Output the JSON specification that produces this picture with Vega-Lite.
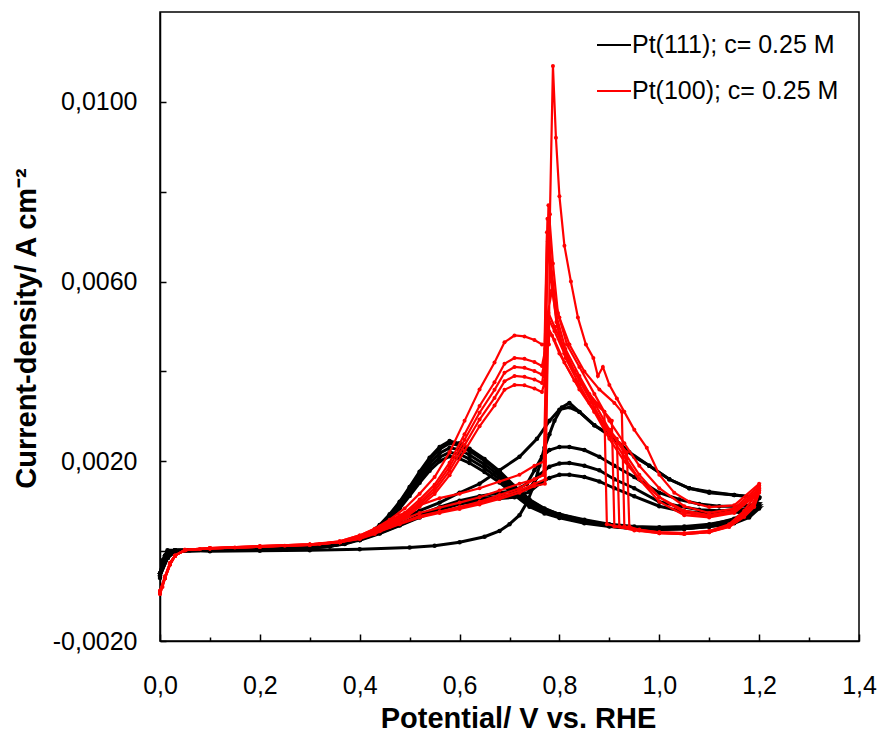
{
"$schema": "https://vega.github.io/schema/vega-lite/v6.json",
"width": 699, "height": 629,
"autosize": {"type": "none"},
"padding": {"left": 160, "top": 12, "right": 19, "bottom": 94},
"background": "white",
"config": {
  "locale": {"number": {"decimal": ",", "thousands": ".", "grouping": [3], "currency": ["", " €"], "minus": "-"}},
  "view": {"stroke": "black", "strokeWidth": 1.5},
  "font": "Liberation Sans",
  "axis": {"grid": false, "domainColor": "black", "domainWidth": 1.5, "tickColor": "black", "tickWidth": 1.5, "labelColor": "black", "titleColor": "black", "labelFont": "Liberation Sans", "titleFont": "Liberation Sans", "labelFontSize": 25, "titleFontSize": 29, "titleFontWeight": "bold"}
},
"data": {"values": [
{"e":"Pt(111)","c":1,"E":0,"j":-0.0006},{"e":"Pt(111)","c":1,"E":0.005,"j":-0.0002},{"e":"Pt(111)","c":1,"E":0.015,"j":0.00002},{"e":"Pt(111)","c":1,"E":0.05,"j":0.00002},{"e":"Pt(111)","c":1,"E":0.1,"j":0},{"e":"Pt(111)","c":1,"E":0.2,"j":0.00001},{"e":"Pt(111)","c":1,"E":0.3,"j":0.00002},{"e":"Pt(111)","c":1,"E":0.4,"j":0.00004},{"e":"Pt(111)","c":1,"E":0.5,"j":0.00008},{"e":"Pt(111)","c":1,"E":0.55,"j":0.00012},{"e":"Pt(111)","c":1,"E":0.6,"j":0.0002},{"e":"Pt(111)","c":1,"E":0.65,"j":0.00032},{"e":"Pt(111)","c":1,"E":0.68,"j":0.00045},{"e":"Pt(111)","c":1,"E":0.7,"j":0.0006},{"e":"Pt(111)","c":1,"E":0.72,"j":0.0008},{"e":"Pt(111)","c":1,"E":0.735,"j":0.00108},{"e":"Pt(111)","c":1,"E":0.75,"j":0.0015},{"e":"Pt(111)","c":1,"E":0.76,"j":0.0019},{"e":"Pt(111)","c":1,"E":0.77,"j":0.0023},{"e":"Pt(111)","c":1,"E":0.78,"j":0.0026},{"e":"Pt(111)","c":1,"E":0.79,"j":0.0029},{"e":"Pt(111)","c":1,"E":0.805,"j":0.0032},{"e":"Pt(111)","c":1,"E":0.82,"j":0.0033},{"e":"Pt(111)","c":1,"E":0.84,"j":0.0031},{"e":"Pt(111)","c":1,"E":0.87,"j":0.0028},{"e":"Pt(111)","c":1,"E":0.9,"j":0.0026},{"e":"Pt(111)","c":1,"E":0.94,"j":0.0022},{"e":"Pt(111)","c":1,"E":0.98,"j":0.0019},{"e":"Pt(111)","c":1,"E":1.02,"j":0.0016},{"e":"Pt(111)","c":1,"E":1.06,"j":0.0014},{"e":"Pt(111)","c":1,"E":1.1,"j":0.0013},{"e":"Pt(111)","c":1,"E":1.15,"j":0.00125},{"e":"Pt(111)","c":1,"E":1.2,"j":0.0012},
{"e":"Pt(111)","c":1,"E":1.18,"j":0.0009},{"e":"Pt(111)","c":1,"E":1.15,"j":0.00072},{"e":"Pt(111)","c":1,"E":1.1,"j":0.00058},{"e":"Pt(111)","c":1,"E":1.05,"j":0.00052},{"e":"Pt(111)","c":1,"E":1,"j":0.0005},{"e":"Pt(111)","c":1,"E":0.95,"j":0.00052},{"e":"Pt(111)","c":1,"E":0.9,"j":0.00058},{"e":"Pt(111)","c":1,"E":0.85,"j":0.00068},{"e":"Pt(111)","c":1,"E":0.8,"j":0.00082},{"e":"Pt(111)","c":1,"E":0.77,"j":0.00095},{"e":"Pt(111)","c":1,"E":0.74,"j":0.00115},{"e":"Pt(111)","c":1,"E":0.71,"j":0.00145},{"e":"Pt(111)","c":1,"E":0.68,"j":0.00178},{"e":"Pt(111)","c":1,"E":0.65,"j":0.00205},{"e":"Pt(111)","c":1,"E":0.62,"j":0.00228},{"e":"Pt(111)","c":1,"E":0.6,"j":0.0024},{"e":"Pt(111)","c":1,"E":0.58,"j":0.00245},{"e":"Pt(111)","c":1,"E":0.56,"j":0.00232},{"e":"Pt(111)","c":1,"E":0.54,"j":0.00208},{"e":"Pt(111)","c":1,"E":0.52,"j":0.00177},{"e":"Pt(111)","c":1,"E":0.5,"j":0.00143},{"e":"Pt(111)","c":1,"E":0.48,"j":0.0011},{"e":"Pt(111)","c":1,"E":0.46,"j":0.00082},{"e":"Pt(111)","c":1,"E":0.44,"j":0.00058},{"e":"Pt(111)","c":1,"E":0.42,"j":0.0004},{"e":"Pt(111)","c":1,"E":0.4,"j":0.00028},{"e":"Pt(111)","c":1,"E":0.37,"j":0.00018},{"e":"Pt(111)","c":1,"E":0.34,"j":0.00012},{"e":"Pt(111)","c":1,"E":0.3,"j":0.00008},{"e":"Pt(111)","c":1,"E":0.25,"j":0.00005},{"e":"Pt(111)","c":1,"E":0.2,"j":0.00004},{"e":"Pt(111)","c":1,"E":0.15,"j":0.00003},{"e":"Pt(111)","c":1,"E":0.1,"j":0.00002},{"e":"Pt(111)","c":1,"E":0.06,"j":0.00002},{"e":"Pt(111)","c":1,"E":0.03,"j":0},{"e":"Pt(111)","c":1,"E":0.015,"j":-0.00015},{"e":"Pt(111)","c":1,"E":0,"j":-0.00055},

{"e":"Pt(111)","c":2,"E":0,"j":-0.00055},{"e":"Pt(111)","c":2,"E":0.01,"j":-0.0001},{"e":"Pt(111)","c":2,"E":0.03,"j":0.00002},{"e":"Pt(111)","c":2,"E":0.1,"j":0.00003},{"e":"Pt(111)","c":2,"E":0.2,"j":0.00005},{"e":"Pt(111)","c":2,"E":0.3,"j":0.0001},{"e":"Pt(111)","c":2,"E":0.35,"j":0.00016},{"e":"Pt(111)","c":2,"E":0.4,"j":0.00028},{"e":"Pt(111)","c":2,"E":0.44,"j":0.00045},{"e":"Pt(111)","c":2,"E":0.48,"j":0.00068},{"e":"Pt(111)","c":2,"E":0.52,"j":0.0009},{"e":"Pt(111)","c":2,"E":0.56,"j":0.00108},{"e":"Pt(111)","c":2,"E":0.6,"j":0.0013},{"e":"Pt(111)","c":2,"E":0.64,"j":0.0015},{"e":"Pt(111)","c":2,"E":0.68,"j":0.0018},{"e":"Pt(111)","c":2,"E":0.72,"j":0.0021},{"e":"Pt(111)","c":2,"E":0.755,"j":0.0025},{"e":"Pt(111)","c":2,"E":0.78,"j":0.0029},{"e":"Pt(111)","c":2,"E":0.8,"j":0.00315},{"e":"Pt(111)","c":2,"E":0.82,"j":0.0032},{"e":"Pt(111)","c":2,"E":0.84,"j":0.0031},{"e":"Pt(111)","c":2,"E":0.87,"j":0.0028},{"e":"Pt(111)","c":2,"E":0.91,"j":0.0025},{"e":"Pt(111)","c":2,"E":0.95,"j":0.0021},{"e":"Pt(111)","c":2,"E":0.98,"j":0.0019},{"e":"Pt(111)","c":2,"E":1.02,"j":0.0016},{"e":"Pt(111)","c":2,"E":1.06,"j":0.0014},{"e":"Pt(111)","c":2,"E":1.1,"j":0.00132},{"e":"Pt(111)","c":2,"E":1.15,"j":0.00125},{"e":"Pt(111)","c":2,"E":1.2,"j":0.00118},
{"e":"Pt(111)","c":2,"E":1.18,"j":0.00085},{"e":"Pt(111)","c":2,"E":1.15,"j":0.0007},{"e":"Pt(111)","c":2,"E":1.1,"j":0.0006},{"e":"Pt(111)","c":2,"E":1.05,"j":0.00055},{"e":"Pt(111)","c":2,"E":1,"j":0.00053},{"e":"Pt(111)","c":2,"E":0.95,"j":0.00055},{"e":"Pt(111)","c":2,"E":0.9,"j":0.0006},{"e":"Pt(111)","c":2,"E":0.85,"j":0.0007},{"e":"Pt(111)","c":2,"E":0.8,"j":0.00082},{"e":"Pt(111)","c":2,"E":0.77,"j":0.00094},{"e":"Pt(111)","c":2,"E":0.74,"j":0.00113},{"e":"Pt(111)","c":2,"E":0.71,"j":0.00142},{"e":"Pt(111)","c":2,"E":0.68,"j":0.00174},{"e":"Pt(111)","c":2,"E":0.65,"j":0.00201},{"e":"Pt(111)","c":2,"E":0.62,"j":0.00223},{"e":"Pt(111)","c":2,"E":0.6,"j":0.00235},{"e":"Pt(111)","c":2,"E":0.58,"j":0.0024},{"e":"Pt(111)","c":2,"E":0.56,"j":0.00227},{"e":"Pt(111)","c":2,"E":0.54,"j":0.00204},{"e":"Pt(111)","c":2,"E":0.52,"j":0.00173},{"e":"Pt(111)","c":2,"E":0.5,"j":0.0014},{"e":"Pt(111)","c":2,"E":0.48,"j":0.00108},{"e":"Pt(111)","c":2,"E":0.46,"j":0.0008},{"e":"Pt(111)","c":2,"E":0.44,"j":0.00057},{"e":"Pt(111)","c":2,"E":0.42,"j":0.0004},{"e":"Pt(111)","c":2,"E":0.4,"j":0.00028},{"e":"Pt(111)","c":2,"E":0.37,"j":0.00018},{"e":"Pt(111)","c":2,"E":0.34,"j":0.00012},{"e":"Pt(111)","c":2,"E":0.3,"j":0.00008},{"e":"Pt(111)","c":2,"E":0.2,"j":0.00004},{"e":"Pt(111)","c":2,"E":0.1,"j":0.00002},{"e":"Pt(111)","c":2,"E":0.03,"j":0},{"e":"Pt(111)","c":2,"E":0.015,"j":-0.00015},{"e":"Pt(111)","c":2,"E":0,"j":-0.00055},

{"e":"Pt(111)","c":3,"E":0,"j":-0.0005},{"e":"Pt(111)","c":3,"E":0.01,"j":-0.0001},{"e":"Pt(111)","c":3,"E":0.03,"j":0.00002},{"e":"Pt(111)","c":3,"E":0.1,"j":0.00003},{"e":"Pt(111)","c":3,"E":0.2,"j":0.00005},{"e":"Pt(111)","c":3,"E":0.3,"j":0.0001},{"e":"Pt(111)","c":3,"E":0.35,"j":0.00016},{"e":"Pt(111)","c":3,"E":0.4,"j":0.00026},{"e":"Pt(111)","c":3,"E":0.44,"j":0.00042},{"e":"Pt(111)","c":3,"E":0.48,"j":0.0006},{"e":"Pt(111)","c":3,"E":0.52,"j":0.0008},{"e":"Pt(111)","c":3,"E":0.56,"j":0.00098},{"e":"Pt(111)","c":3,"E":0.6,"j":0.00112},{"e":"Pt(111)","c":3,"E":0.64,"j":0.00122},{"e":"Pt(111)","c":3,"E":0.68,"j":0.0013},{"e":"Pt(111)","c":3,"E":0.71,"j":0.00135},{"e":"Pt(111)","c":3,"E":0.735,"j":0.0015},{"e":"Pt(111)","c":3,"E":0.75,"j":0.0018},{"e":"Pt(111)","c":3,"E":0.765,"j":0.0021},{"e":"Pt(111)","c":3,"E":0.78,"j":0.00225},{"e":"Pt(111)","c":3,"E":0.8,"j":0.00232},{"e":"Pt(111)","c":3,"E":0.82,"j":0.00232},{"e":"Pt(111)","c":3,"E":0.85,"j":0.00225},{"e":"Pt(111)","c":3,"E":0.88,"j":0.0021},{"e":"Pt(111)","c":3,"E":0.91,"j":0.0019},{"e":"Pt(111)","c":3,"E":0.95,"j":0.00165},{"e":"Pt(111)","c":3,"E":1,"j":0.0013},{"e":"Pt(111)","c":3,"E":1.04,"j":0.00115},{"e":"Pt(111)","c":3,"E":1.08,"j":0.00105},{"e":"Pt(111)","c":3,"E":1.12,"j":0.001},{"e":"Pt(111)","c":3,"E":1.16,"j":0.001},{"e":"Pt(111)","c":3,"E":1.2,"j":0.00105},
{"e":"Pt(111)","c":3,"E":1.18,"j":0.0008},{"e":"Pt(111)","c":3,"E":1.15,"j":0.00066},{"e":"Pt(111)","c":3,"E":1.1,"j":0.00056},{"e":"Pt(111)","c":3,"E":1.05,"j":0.0005},{"e":"Pt(111)","c":3,"E":1,"j":0.00048},{"e":"Pt(111)","c":3,"E":0.95,"j":0.0005},{"e":"Pt(111)","c":3,"E":0.9,"j":0.00056},{"e":"Pt(111)","c":3,"E":0.85,"j":0.00066},{"e":"Pt(111)","c":3,"E":0.8,"j":0.00079},{"e":"Pt(111)","c":3,"E":0.77,"j":0.0009},{"e":"Pt(111)","c":3,"E":0.74,"j":0.00108},{"e":"Pt(111)","c":3,"E":0.71,"j":0.00136},{"e":"Pt(111)","c":3,"E":0.68,"j":0.00167},{"e":"Pt(111)","c":3,"E":0.65,"j":0.00193},{"e":"Pt(111)","c":3,"E":0.62,"j":0.00214},{"e":"Pt(111)","c":3,"E":0.6,"j":0.00226},{"e":"Pt(111)","c":3,"E":0.58,"j":0.0023},{"e":"Pt(111)","c":3,"E":0.56,"j":0.00218},{"e":"Pt(111)","c":3,"E":0.54,"j":0.00196},{"e":"Pt(111)","c":3,"E":0.52,"j":0.00166},{"e":"Pt(111)","c":3,"E":0.5,"j":0.00134},{"e":"Pt(111)","c":3,"E":0.48,"j":0.00103},{"e":"Pt(111)","c":3,"E":0.46,"j":0.00077},{"e":"Pt(111)","c":3,"E":0.44,"j":0.00055},{"e":"Pt(111)","c":3,"E":0.42,"j":0.00038},{"e":"Pt(111)","c":3,"E":0.4,"j":0.00027},{"e":"Pt(111)","c":3,"E":0.37,"j":0.00017},{"e":"Pt(111)","c":3,"E":0.34,"j":0.00011},{"e":"Pt(111)","c":3,"E":0.3,"j":0.00007},{"e":"Pt(111)","c":3,"E":0.2,"j":0.00004},{"e":"Pt(111)","c":3,"E":0.1,"j":0.00002},{"e":"Pt(111)","c":3,"E":0.03,"j":0},{"e":"Pt(111)","c":3,"E":0.015,"j":-0.00015},{"e":"Pt(111)","c":3,"E":0,"j":-0.0005},

{"e":"Pt(111)","c":4,"E":0,"j":-0.0005},{"e":"Pt(111)","c":4,"E":0.01,"j":-0.0001},{"e":"Pt(111)","c":4,"E":0.03,"j":0.00002},{"e":"Pt(111)","c":4,"E":0.1,"j":0.00003},{"e":"Pt(111)","c":4,"E":0.2,"j":0.00005},{"e":"Pt(111)","c":4,"E":0.3,"j":0.0001},{"e":"Pt(111)","c":4,"E":0.35,"j":0.00015},{"e":"Pt(111)","c":4,"E":0.4,"j":0.00025},{"e":"Pt(111)","c":4,"E":0.44,"j":0.0004},{"e":"Pt(111)","c":4,"E":0.48,"j":0.00058},{"e":"Pt(111)","c":4,"E":0.52,"j":0.00077},{"e":"Pt(111)","c":4,"E":0.56,"j":0.00094},{"e":"Pt(111)","c":4,"E":0.6,"j":0.00108},{"e":"Pt(111)","c":4,"E":0.64,"j":0.00116},{"e":"Pt(111)","c":4,"E":0.68,"j":0.00122},{"e":"Pt(111)","c":4,"E":0.71,"j":0.00126},{"e":"Pt(111)","c":4,"E":0.74,"j":0.0014},{"e":"Pt(111)","c":4,"E":0.76,"j":0.0017},{"e":"Pt(111)","c":4,"E":0.78,"j":0.00188},{"e":"Pt(111)","c":4,"E":0.8,"j":0.00195},{"e":"Pt(111)","c":4,"E":0.82,"j":0.00196},{"e":"Pt(111)","c":4,"E":0.85,"j":0.0019},{"e":"Pt(111)","c":4,"E":0.88,"j":0.0018},{"e":"Pt(111)","c":4,"E":0.91,"j":0.0016},{"e":"Pt(111)","c":4,"E":0.95,"j":0.0014},{"e":"Pt(111)","c":4,"E":1,"j":0.0011},{"e":"Pt(111)","c":4,"E":1.04,"j":0.001},{"e":"Pt(111)","c":4,"E":1.08,"j":0.00092},{"e":"Pt(111)","c":4,"E":1.12,"j":0.0009},{"e":"Pt(111)","c":4,"E":1.16,"j":0.00092},{"e":"Pt(111)","c":4,"E":1.2,"j":0.001},
{"e":"Pt(111)","c":4,"E":1.18,"j":0.00078},{"e":"Pt(111)","c":4,"E":1.15,"j":0.00064},{"e":"Pt(111)","c":4,"E":1.1,"j":0.00055},{"e":"Pt(111)","c":4,"E":1.05,"j":0.0005},{"e":"Pt(111)","c":4,"E":1,"j":0.00049},{"e":"Pt(111)","c":4,"E":0.95,"j":0.00051},{"e":"Pt(111)","c":4,"E":0.9,"j":0.00056},{"e":"Pt(111)","c":4,"E":0.85,"j":0.00064},{"e":"Pt(111)","c":4,"E":0.8,"j":0.00076},{"e":"Pt(111)","c":4,"E":0.77,"j":0.00087},{"e":"Pt(111)","c":4,"E":0.74,"j":0.00104},{"e":"Pt(111)","c":4,"E":0.71,"j":0.00131},{"e":"Pt(111)","c":4,"E":0.68,"j":0.0016},{"e":"Pt(111)","c":4,"E":0.65,"j":0.00185},{"e":"Pt(111)","c":4,"E":0.62,"j":0.00205},{"e":"Pt(111)","c":4,"E":0.6,"j":0.00216},{"e":"Pt(111)","c":4,"E":0.58,"j":0.0022},{"e":"Pt(111)","c":4,"E":0.56,"j":0.00209},{"e":"Pt(111)","c":4,"E":0.54,"j":0.00187},{"e":"Pt(111)","c":4,"E":0.52,"j":0.00159},{"e":"Pt(111)","c":4,"E":0.5,"j":0.00129},{"e":"Pt(111)","c":4,"E":0.48,"j":0.00099},{"e":"Pt(111)","c":4,"E":0.46,"j":0.00074},{"e":"Pt(111)","c":4,"E":0.44,"j":0.00052},{"e":"Pt(111)","c":4,"E":0.42,"j":0.00037},{"e":"Pt(111)","c":4,"E":0.4,"j":0.00026},{"e":"Pt(111)","c":4,"E":0.37,"j":0.00017},{"e":"Pt(111)","c":4,"E":0.34,"j":0.00011},{"e":"Pt(111)","c":4,"E":0.3,"j":0.00007},{"e":"Pt(111)","c":4,"E":0.2,"j":0.00004},{"e":"Pt(111)","c":4,"E":0.1,"j":0.00002},{"e":"Pt(111)","c":4,"E":0.03,"j":0},{"e":"Pt(111)","c":4,"E":0.015,"j":-0.00015},{"e":"Pt(111)","c":4,"E":0,"j":-0.0005},

{"e":"Pt(111)","c":5,"E":0,"j":-0.0005},{"e":"Pt(111)","c":5,"E":0.01,"j":-0.0001},{"e":"Pt(111)","c":5,"E":0.03,"j":0.00002},{"e":"Pt(111)","c":5,"E":0.1,"j":0.00003},{"e":"Pt(111)","c":5,"E":0.2,"j":0.00005},{"e":"Pt(111)","c":5,"E":0.3,"j":0.0001},{"e":"Pt(111)","c":5,"E":0.35,"j":0.00015},{"e":"Pt(111)","c":5,"E":0.4,"j":0.00024},{"e":"Pt(111)","c":5,"E":0.44,"j":0.00039},{"e":"Pt(111)","c":5,"E":0.48,"j":0.00057},{"e":"Pt(111)","c":5,"E":0.52,"j":0.00075},{"e":"Pt(111)","c":5,"E":0.56,"j":0.00092},{"e":"Pt(111)","c":5,"E":0.6,"j":0.00105},{"e":"Pt(111)","c":5,"E":0.64,"j":0.00112},{"e":"Pt(111)","c":5,"E":0.68,"j":0.00117},{"e":"Pt(111)","c":5,"E":0.71,"j":0.0012},{"e":"Pt(111)","c":5,"E":0.74,"j":0.00132},{"e":"Pt(111)","c":5,"E":0.76,"j":0.0015},{"e":"Pt(111)","c":5,"E":0.78,"j":0.00163},{"e":"Pt(111)","c":5,"E":0.8,"j":0.0017},{"e":"Pt(111)","c":5,"E":0.82,"j":0.0017},{"e":"Pt(111)","c":5,"E":0.85,"j":0.00165},{"e":"Pt(111)","c":5,"E":0.88,"j":0.00155},{"e":"Pt(111)","c":5,"E":0.91,"j":0.0014},{"e":"Pt(111)","c":5,"E":0.95,"j":0.00122},{"e":"Pt(111)","c":5,"E":1,"j":0.001},{"e":"Pt(111)","c":5,"E":1.04,"j":0.0009},{"e":"Pt(111)","c":5,"E":1.08,"j":0.00085},{"e":"Pt(111)","c":5,"E":1.12,"j":0.00083},{"e":"Pt(111)","c":5,"E":1.16,"j":0.00087},{"e":"Pt(111)","c":5,"E":1.2,"j":0.00095},
{"e":"Pt(111)","c":5,"E":1.18,"j":0.00075},{"e":"Pt(111)","c":5,"E":1.15,"j":0.00062},{"e":"Pt(111)","c":5,"E":1.1,"j":0.00054},{"e":"Pt(111)","c":5,"E":1.05,"j":0.0005},{"e":"Pt(111)","c":5,"E":1,"j":0.00049},{"e":"Pt(111)","c":5,"E":0.95,"j":0.0005},{"e":"Pt(111)","c":5,"E":0.9,"j":0.00055},{"e":"Pt(111)","c":5,"E":0.85,"j":0.00062},{"e":"Pt(111)","c":5,"E":0.8,"j":0.00074},{"e":"Pt(111)","c":5,"E":0.77,"j":0.00084},{"e":"Pt(111)","c":5,"E":0.74,"j":0.00099},{"e":"Pt(111)","c":5,"E":0.71,"j":0.00125},{"e":"Pt(111)","c":5,"E":0.68,"j":0.00153},{"e":"Pt(111)","c":5,"E":0.65,"j":0.00176},{"e":"Pt(111)","c":5,"E":0.62,"j":0.00196},{"e":"Pt(111)","c":5,"E":0.6,"j":0.00206},{"e":"Pt(111)","c":5,"E":0.58,"j":0.00211},{"e":"Pt(111)","c":5,"E":0.56,"j":0.002},{"e":"Pt(111)","c":5,"E":0.54,"j":0.00179},{"e":"Pt(111)","c":5,"E":0.52,"j":0.00152},{"e":"Pt(111)","c":5,"E":0.5,"j":0.00123},{"e":"Pt(111)","c":5,"E":0.48,"j":0.00095},{"e":"Pt(111)","c":5,"E":0.46,"j":0.00071},{"e":"Pt(111)","c":5,"E":0.44,"j":0.0005},{"e":"Pt(111)","c":5,"E":0.42,"j":0.00036},{"e":"Pt(111)","c":5,"E":0.4,"j":0.00025},{"e":"Pt(111)","c":5,"E":0.37,"j":0.00016},{"e":"Pt(111)","c":5,"E":0.34,"j":0.00011},{"e":"Pt(111)","c":5,"E":0.3,"j":0.00007},{"e":"Pt(111)","c":5,"E":0.2,"j":0.00004},{"e":"Pt(111)","c":5,"E":0.1,"j":0.00002},{"e":"Pt(111)","c":5,"E":0.03,"j":0},{"e":"Pt(111)","c":5,"E":0.015,"j":-0.00015},{"e":"Pt(111)","c":5,"E":0,"j":-0.0005},

{"e":"Pt(100)","c":1,"E":0,"j":-0.00095},{"e":"Pt(100)","c":1,"E":0.005,"j":-0.0008},{"e":"Pt(100)","c":1,"E":0.01,"j":-0.0006},{"e":"Pt(100)","c":1,"E":0.02,"j":-0.00028},{"e":"Pt(100)","c":1,"E":0.03,"j":-0.0001},{"e":"Pt(100)","c":1,"E":0.05,"j":0.00002},{"e":"Pt(100)","c":1,"E":0.08,"j":0.00005},{"e":"Pt(100)","c":1,"E":0.15,"j":0.00008},{"e":"Pt(100)","c":1,"E":0.25,"j":0.00012},{"e":"Pt(100)","c":1,"E":0.32,"j":0.00016},{"e":"Pt(100)","c":1,"E":0.36,"j":0.00022},{"e":"Pt(100)","c":1,"E":0.4,"j":0.00035},{"e":"Pt(100)","c":1,"E":0.43,"j":0.0005},{"e":"Pt(100)","c":1,"E":0.46,"j":0.0007},{"e":"Pt(100)","c":1,"E":0.49,"j":0.00095},{"e":"Pt(100)","c":1,"E":0.52,"j":0.00128},{"e":"Pt(100)","c":1,"E":0.55,"j":0.00165},{"e":"Pt(100)","c":1,"E":0.58,"j":0.0022},{"e":"Pt(100)","c":1,"E":0.61,"j":0.0029},{"e":"Pt(100)","c":1,"E":0.64,"j":0.0036},{"e":"Pt(100)","c":1,"E":0.67,"j":0.0042},{"e":"Pt(100)","c":1,"E":0.69,"j":0.00465},{"e":"Pt(100)","c":1,"E":0.71,"j":0.0048},{"e":"Pt(100)","c":1,"E":0.73,"j":0.00478},{"e":"Pt(100)","c":1,"E":0.75,"j":0.0047},{"e":"Pt(100)","c":1,"E":0.765,"j":0.0046},{"e":"Pt(100)","c":1,"E":0.779,"j":0.0046},{"e":"Pt(100)","c":1,"E":0.781,"j":0.0075},{"e":"Pt(100)","c":1,"E":0.787,"j":0.0108},{"e":"Pt(100)","c":1,"E":0.793,"j":0.0092},{"e":"Pt(100)","c":1,"E":0.8,"j":0.0079},{"e":"Pt(100)","c":1,"E":0.81,"j":0.0068},{"e":"Pt(100)","c":1,"E":0.823,"j":0.006},{"e":"Pt(100)","c":1,"E":0.837,"j":0.0052},{"e":"Pt(100)","c":1,"E":0.853,"j":0.0046},{"e":"Pt(100)","c":1,"E":0.868,"j":0.0043},{"e":"Pt(100)","c":1,"E":0.877,"j":0.0039},{"e":"Pt(100)","c":1,"E":0.887,"j":0.0041},{"e":"Pt(100)","c":1,"E":0.9,"j":0.0037},{"e":"Pt(100)","c":1,"E":0.915,"j":0.0034},{"e":"Pt(100)","c":1,"E":0.93,"j":0.0031},{"e":"Pt(100)","c":1,"E":0.95,"j":0.0027},{"e":"Pt(100)","c":1,"E":0.975,"j":0.0023},{"e":"Pt(100)","c":1,"E":1,"j":0.0017},{"e":"Pt(100)","c":1,"E":1.03,"j":0.0013},{"e":"Pt(100)","c":1,"E":1.06,"j":0.0011},{"e":"Pt(100)","c":1,"E":1.1,"j":0.00098},{"e":"Pt(100)","c":1,"E":1.15,"j":0.00102},{"e":"Pt(100)","c":1,"E":1.2,"j":0.0015},
{"e":"Pt(100)","c":1,"E":1.19,"j":0.0012},{"e":"Pt(100)","c":1,"E":1.17,"j":0.0009},{"e":"Pt(100)","c":1,"E":1.14,"j":0.0006},{"e":"Pt(100)","c":1,"E":1.1,"j":0.00045},{"e":"Pt(100)","c":1,"E":1.05,"j":0.0004},{"e":"Pt(100)","c":1,"E":1,"j":0.00042},{"e":"Pt(100)","c":1,"E":0.96,"j":0.00048},{"e":"Pt(100)","c":1,"E":0.93,"j":0.00055},{"e":"Pt(100)","c":1,"E":0.925,"j":0.0031},{"e":"Pt(100)","c":1,"E":0.91,"j":0.0033},{"e":"Pt(100)","c":1,"E":0.88,"j":0.0036},{"e":"Pt(100)","c":1,"E":0.85,"j":0.004},{"e":"Pt(100)","c":1,"E":0.82,"j":0.0046},{"e":"Pt(100)","c":1,"E":0.8,"j":0.0052},{"e":"Pt(100)","c":1,"E":0.785,"j":0.0058},{"e":"Pt(100)","c":1,"E":0.775,"j":0.0052},{"e":"Pt(100)","c":1,"E":0.77,"j":0.0017},{"e":"Pt(100)","c":1,"E":0.75,"j":0.0016},{"e":"Pt(100)","c":1,"E":0.72,"j":0.0014},{"e":"Pt(100)","c":1,"E":0.68,"j":0.00125},{"e":"Pt(100)","c":1,"E":0.64,"j":0.0011},{"e":"Pt(100)","c":1,"E":0.6,"j":0.00098},{"e":"Pt(100)","c":1,"E":0.56,"j":0.00088},{"e":"Pt(100)","c":1,"E":0.52,"j":0.00078},{"e":"Pt(100)","c":1,"E":0.48,"j":0.00062},{"e":"Pt(100)","c":1,"E":0.44,"j":0.00045},{"e":"Pt(100)","c":1,"E":0.4,"j":0.0003},{"e":"Pt(100)","c":1,"E":0.36,"j":0.0002},{"e":"Pt(100)","c":1,"E":0.3,"j":0.00014},{"e":"Pt(100)","c":1,"E":0.2,"j":0.0001},{"e":"Pt(100)","c":1,"E":0.1,"j":0.00006},{"e":"Pt(100)","c":1,"E":0.05,"j":0.00002},{"e":"Pt(100)","c":1,"E":0.03,"j":-0.0001},{"e":"Pt(100)","c":1,"E":0.02,"j":-0.0003},{"e":"Pt(100)","c":1,"E":0.01,"j":-0.0006},{"e":"Pt(100)","c":1,"E":0,"j":-0.00095},

{"e":"Pt(100)","c":2,"E":0,"j":-0.00095},{"e":"Pt(100)","c":2,"E":0.01,"j":-0.0006},{"e":"Pt(100)","c":2,"E":0.02,"j":-0.00028},{"e":"Pt(100)","c":2,"E":0.03,"j":-0.0001},{"e":"Pt(100)","c":2,"E":0.05,"j":0.00002},{"e":"Pt(100)","c":2,"E":0.1,"j":0.00006},{"e":"Pt(100)","c":2,"E":0.2,"j":0.0001},{"e":"Pt(100)","c":2,"E":0.3,"j":0.00014},{"e":"Pt(100)","c":2,"E":0.36,"j":0.0002},{"e":"Pt(100)","c":2,"E":0.4,"j":0.00031},{"e":"Pt(100)","c":2,"E":0.43,"j":0.00045},{"e":"Pt(100)","c":2,"E":0.46,"j":0.00063},{"e":"Pt(100)","c":2,"E":0.49,"j":0.00085},{"e":"Pt(100)","c":2,"E":0.52,"j":0.00115},{"e":"Pt(100)","c":2,"E":0.55,"j":0.00148},{"e":"Pt(100)","c":2,"E":0.58,"j":0.00197},{"e":"Pt(100)","c":2,"E":0.61,"j":0.0026},{"e":"Pt(100)","c":2,"E":0.64,"j":0.00323},{"e":"Pt(100)","c":2,"E":0.67,"j":0.00376},{"e":"Pt(100)","c":2,"E":0.69,"j":0.00417},{"e":"Pt(100)","c":2,"E":0.71,"j":0.0043},{"e":"Pt(100)","c":2,"E":0.73,"j":0.00428},{"e":"Pt(100)","c":2,"E":0.75,"j":0.00421},{"e":"Pt(100)","c":2,"E":0.765,"j":0.00412},{"e":"Pt(100)","c":2,"E":0.772,"j":0.0045},{"e":"Pt(100)","c":2,"E":0.778,"j":0.0077},{"e":"Pt(100)","c":2,"E":0.787,"j":0.0064},{"e":"Pt(100)","c":2,"E":0.797,"j":0.0053},{"e":"Pt(100)","c":2,"E":0.815,"j":0.0046},{"e":"Pt(100)","c":2,"E":0.84,"j":0.0041},{"e":"Pt(100)","c":2,"E":0.87,"j":0.0035},{"e":"Pt(100)","c":2,"E":0.9,"j":0.0029},{"e":"Pt(100)","c":2,"E":0.93,"j":0.0024},{"e":"Pt(100)","c":2,"E":0.96,"j":0.0019},{"e":"Pt(100)","c":2,"E":1,"j":0.0014},{"e":"Pt(100)","c":2,"E":1.05,"j":0.001},{"e":"Pt(100)","c":2,"E":1.1,"j":0.00085},{"e":"Pt(100)","c":2,"E":1.15,"j":0.00095},{"e":"Pt(100)","c":2,"E":1.2,"j":0.00145},
{"e":"Pt(100)","c":2,"E":1.19,"j":0.0011},{"e":"Pt(100)","c":2,"E":1.17,"j":0.00085},{"e":"Pt(100)","c":2,"E":1.14,"j":0.00058},{"e":"Pt(100)","c":2,"E":1.1,"j":0.00044},{"e":"Pt(100)","c":2,"E":1.05,"j":0.0004},{"e":"Pt(100)","c":2,"E":1,"j":0.00042},{"e":"Pt(100)","c":2,"E":0.96,"j":0.00047},{"e":"Pt(100)","c":2,"E":0.91,"j":0.00055},{"e":"Pt(100)","c":2,"E":0.905,"j":0.0029},{"e":"Pt(100)","c":2,"E":0.89,"j":0.0031},{"e":"Pt(100)","c":2,"E":0.86,"j":0.0035},{"e":"Pt(100)","c":2,"E":0.83,"j":0.004},{"e":"Pt(100)","c":2,"E":0.81,"j":0.0045},{"e":"Pt(100)","c":2,"E":0.79,"j":0.005},{"e":"Pt(100)","c":2,"E":0.778,"j":0.0053},{"e":"Pt(100)","c":2,"E":0.772,"j":0.0016},{"e":"Pt(100)","c":2,"E":0.75,"j":0.0015},{"e":"Pt(100)","c":2,"E":0.72,"j":0.00135},{"e":"Pt(100)","c":2,"E":0.68,"j":0.0012},{"e":"Pt(100)","c":2,"E":0.64,"j":0.00108},{"e":"Pt(100)","c":2,"E":0.6,"j":0.00097},{"e":"Pt(100)","c":2,"E":0.56,"j":0.00087},{"e":"Pt(100)","c":2,"E":0.52,"j":0.00077},{"e":"Pt(100)","c":2,"E":0.48,"j":0.00061},{"e":"Pt(100)","c":2,"E":0.44,"j":0.00045},{"e":"Pt(100)","c":2,"E":0.4,"j":0.0003},{"e":"Pt(100)","c":2,"E":0.36,"j":0.0002},{"e":"Pt(100)","c":2,"E":0.3,"j":0.00014},{"e":"Pt(100)","c":2,"E":0.2,"j":0.0001},{"e":"Pt(100)","c":2,"E":0.1,"j":0.00006},{"e":"Pt(100)","c":2,"E":0.05,"j":0.00002},{"e":"Pt(100)","c":2,"E":0.03,"j":-0.0001},{"e":"Pt(100)","c":2,"E":0.02,"j":-0.0003},{"e":"Pt(100)","c":2,"E":0.01,"j":-0.0006},{"e":"Pt(100)","c":2,"E":0,"j":-0.00095},

{"e":"Pt(100)","c":3,"E":0,"j":-0.0009},{"e":"Pt(100)","c":3,"E":0.01,"j":-0.00058},{"e":"Pt(100)","c":3,"E":0.02,"j":-0.00027},{"e":"Pt(100)","c":3,"E":0.03,"j":-0.0001},{"e":"Pt(100)","c":3,"E":0.05,"j":0.00003},{"e":"Pt(100)","c":3,"E":0.1,"j":0.00007},{"e":"Pt(100)","c":3,"E":0.2,"j":0.00011},{"e":"Pt(100)","c":3,"E":0.3,"j":0.00015},{"e":"Pt(100)","c":3,"E":0.36,"j":0.0002},{"e":"Pt(100)","c":3,"E":0.4,"j":0.0003},{"e":"Pt(100)","c":3,"E":0.43,"j":0.00043},{"e":"Pt(100)","c":3,"E":0.46,"j":0.0006},{"e":"Pt(100)","c":3,"E":0.49,"j":0.00081},{"e":"Pt(100)","c":3,"E":0.52,"j":0.00109},{"e":"Pt(100)","c":3,"E":0.55,"j":0.00141},{"e":"Pt(100)","c":3,"E":0.58,"j":0.00188},{"e":"Pt(100)","c":3,"E":0.61,"j":0.00248},{"e":"Pt(100)","c":3,"E":0.64,"j":0.00308},{"e":"Pt(100)","c":3,"E":0.67,"j":0.00359},{"e":"Pt(100)","c":3,"E":0.69,"j":0.00397},{"e":"Pt(100)","c":3,"E":0.71,"j":0.0041},{"e":"Pt(100)","c":3,"E":0.73,"j":0.00408},{"e":"Pt(100)","c":3,"E":0.75,"j":0.00401},{"e":"Pt(100)","c":3,"E":0.765,"j":0.00393},{"e":"Pt(100)","c":3,"E":0.77,"j":0.0042},{"e":"Pt(100)","c":3,"E":0.776,"j":0.0074},{"e":"Pt(100)","c":3,"E":0.785,"j":0.0062},{"e":"Pt(100)","c":3,"E":0.795,"j":0.0052},{"e":"Pt(100)","c":3,"E":0.812,"j":0.0045},{"e":"Pt(100)","c":3,"E":0.84,"j":0.0039},{"e":"Pt(100)","c":3,"E":0.87,"j":0.0033},{"e":"Pt(100)","c":3,"E":0.9,"j":0.0027},{"e":"Pt(100)","c":3,"E":0.93,"j":0.0022},{"e":"Pt(100)","c":3,"E":0.96,"j":0.0017},{"e":"Pt(100)","c":3,"E":1,"j":0.0012},{"e":"Pt(100)","c":3,"E":1.05,"j":0.0009},{"e":"Pt(100)","c":3,"E":1.1,"j":0.0008},{"e":"Pt(100)","c":3,"E":1.15,"j":0.0009},{"e":"Pt(100)","c":3,"E":1.2,"j":0.0014},
{"e":"Pt(100)","c":3,"E":1.19,"j":0.00105},{"e":"Pt(100)","c":3,"E":1.17,"j":0.0008},{"e":"Pt(100)","c":3,"E":1.14,"j":0.00056},{"e":"Pt(100)","c":3,"E":1.1,"j":0.00043},{"e":"Pt(100)","c":3,"E":1.05,"j":0.00039},{"e":"Pt(100)","c":3,"E":1,"j":0.00041},{"e":"Pt(100)","c":3,"E":0.96,"j":0.00047},{"e":"Pt(100)","c":3,"E":0.92,"j":0.00055},{"e":"Pt(100)","c":3,"E":0.915,"j":0.0025},{"e":"Pt(100)","c":3,"E":0.9,"j":0.0027},{"e":"Pt(100)","c":3,"E":0.87,"j":0.0031},{"e":"Pt(100)","c":3,"E":0.84,"j":0.0036},{"e":"Pt(100)","c":3,"E":0.81,"j":0.0042},{"e":"Pt(100)","c":3,"E":0.79,"j":0.0047},{"e":"Pt(100)","c":3,"E":0.776,"j":0.005},{"e":"Pt(100)","c":3,"E":0.77,"j":0.002},{"e":"Pt(100)","c":3,"E":0.75,"j":0.0019},{"e":"Pt(100)","c":3,"E":0.72,"j":0.0017},{"e":"Pt(100)","c":3,"E":0.68,"j":0.00155},{"e":"Pt(100)","c":3,"E":0.64,"j":0.0014},{"e":"Pt(100)","c":3,"E":0.6,"j":0.00128},{"e":"Pt(100)","c":3,"E":0.56,"j":0.00118},{"e":"Pt(100)","c":3,"E":0.52,"j":0.00102},{"e":"Pt(100)","c":3,"E":0.48,"j":0.0008},{"e":"Pt(100)","c":3,"E":0.44,"j":0.00055},{"e":"Pt(100)","c":3,"E":0.4,"j":0.00035},{"e":"Pt(100)","c":3,"E":0.36,"j":0.00022},{"e":"Pt(100)","c":3,"E":0.3,"j":0.00015},{"e":"Pt(100)","c":3,"E":0.2,"j":0.0001},{"e":"Pt(100)","c":3,"E":0.1,"j":0.00006},{"e":"Pt(100)","c":3,"E":0.05,"j":0.00002},{"e":"Pt(100)","c":3,"E":0.03,"j":-0.0001},{"e":"Pt(100)","c":3,"E":0.02,"j":-0.0003},{"e":"Pt(100)","c":3,"E":0.01,"j":-0.0006},{"e":"Pt(100)","c":3,"E":0,"j":-0.0009},

{"e":"Pt(100)","c":4,"E":0,"j":-0.0009},{"e":"Pt(100)","c":4,"E":0.01,"j":-0.00058},{"e":"Pt(100)","c":4,"E":0.02,"j":-0.00027},{"e":"Pt(100)","c":4,"E":0.03,"j":-0.0001},{"e":"Pt(100)","c":4,"E":0.05,"j":0.00003},{"e":"Pt(100)","c":4,"E":0.1,"j":0.00007},{"e":"Pt(100)","c":4,"E":0.2,"j":0.00011},{"e":"Pt(100)","c":4,"E":0.3,"j":0.00015},{"e":"Pt(100)","c":4,"E":0.36,"j":0.0002},{"e":"Pt(100)","c":4,"E":0.4,"j":0.00028},{"e":"Pt(100)","c":4,"E":0.43,"j":0.00041},{"e":"Pt(100)","c":4,"E":0.46,"j":0.00057},{"e":"Pt(100)","c":4,"E":0.49,"j":0.00077},{"e":"Pt(100)","c":4,"E":0.52,"j":0.00104},{"e":"Pt(100)","c":4,"E":0.55,"j":0.00134},{"e":"Pt(100)","c":4,"E":0.58,"j":0.00179},{"e":"Pt(100)","c":4,"E":0.61,"j":0.00236},{"e":"Pt(100)","c":4,"E":0.64,"j":0.00293},{"e":"Pt(100)","c":4,"E":0.67,"j":0.00341},{"e":"Pt(100)","c":4,"E":0.69,"j":0.00378},{"e":"Pt(100)","c":4,"E":0.71,"j":0.0039},{"e":"Pt(100)","c":4,"E":0.73,"j":0.00388},{"e":"Pt(100)","c":4,"E":0.75,"j":0.00382},{"e":"Pt(100)","c":4,"E":0.765,"j":0.00374},{"e":"Pt(100)","c":4,"E":0.769,"j":0.004},{"e":"Pt(100)","c":4,"E":0.775,"j":0.0071},{"e":"Pt(100)","c":4,"E":0.784,"j":0.006},{"e":"Pt(100)","c":4,"E":0.794,"j":0.0051},{"e":"Pt(100)","c":4,"E":0.81,"j":0.0044},{"e":"Pt(100)","c":4,"E":0.84,"j":0.0038},{"e":"Pt(100)","c":4,"E":0.87,"j":0.0032},{"e":"Pt(100)","c":4,"E":0.9,"j":0.0026},{"e":"Pt(100)","c":4,"E":0.93,"j":0.0021},{"e":"Pt(100)","c":4,"E":0.96,"j":0.0016},{"e":"Pt(100)","c":4,"E":1,"j":0.0012},{"e":"Pt(100)","c":4,"E":1.05,"j":0.00085},{"e":"Pt(100)","c":4,"E":1.1,"j":0.00078},{"e":"Pt(100)","c":4,"E":1.15,"j":0.00088},{"e":"Pt(100)","c":4,"E":1.2,"j":0.00135},
{"e":"Pt(100)","c":4,"E":1.19,"j":0.001},{"e":"Pt(100)","c":4,"E":1.17,"j":0.00078},{"e":"Pt(100)","c":4,"E":1.14,"j":0.00055},{"e":"Pt(100)","c":4,"E":1.1,"j":0.00042},{"e":"Pt(100)","c":4,"E":1.05,"j":0.00038},{"e":"Pt(100)","c":4,"E":1,"j":0.0004},{"e":"Pt(100)","c":4,"E":0.95,"j":0.00046},{"e":"Pt(100)","c":4,"E":0.895,"j":0.0006},{"e":"Pt(100)","c":4,"E":0.89,"j":0.0031},{"e":"Pt(100)","c":4,"E":0.87,"j":0.0033},{"e":"Pt(100)","c":4,"E":0.84,"j":0.0038},{"e":"Pt(100)","c":4,"E":0.81,"j":0.0044},{"e":"Pt(100)","c":4,"E":0.79,"j":0.0049},{"e":"Pt(100)","c":4,"E":0.777,"j":0.0052},{"e":"Pt(100)","c":4,"E":0.771,"j":0.0015},{"e":"Pt(100)","c":4,"E":0.75,"j":0.00145},{"e":"Pt(100)","c":4,"E":0.72,"j":0.0013},{"e":"Pt(100)","c":4,"E":0.68,"j":0.00116},{"e":"Pt(100)","c":4,"E":0.64,"j":0.00104},{"e":"Pt(100)","c":4,"E":0.6,"j":0.00094},{"e":"Pt(100)","c":4,"E":0.56,"j":0.00085},{"e":"Pt(100)","c":4,"E":0.52,"j":0.00075},{"e":"Pt(100)","c":4,"E":0.48,"j":0.0006},{"e":"Pt(100)","c":4,"E":0.44,"j":0.00044},{"e":"Pt(100)","c":4,"E":0.4,"j":0.0003},{"e":"Pt(100)","c":4,"E":0.36,"j":0.0002},{"e":"Pt(100)","c":4,"E":0.3,"j":0.00014},{"e":"Pt(100)","c":4,"E":0.2,"j":0.0001},{"e":"Pt(100)","c":4,"E":0.1,"j":0.00006},{"e":"Pt(100)","c":4,"E":0.05,"j":0.00002},{"e":"Pt(100)","c":4,"E":0.03,"j":-0.0001},{"e":"Pt(100)","c":4,"E":0.02,"j":-0.0003},{"e":"Pt(100)","c":4,"E":0.01,"j":-0.0006},{"e":"Pt(100)","c":4,"E":0,"j":-0.0009},

{"e":"Pt(100)","c":5,"E":0,"j":-0.00088},{"e":"Pt(100)","c":5,"E":0.01,"j":-0.00056},{"e":"Pt(100)","c":5,"E":0.02,"j":-0.00026},{"e":"Pt(100)","c":5,"E":0.03,"j":-0.0001},{"e":"Pt(100)","c":5,"E":0.05,"j":0.00003},{"e":"Pt(100)","c":5,"E":0.1,"j":0.00007},{"e":"Pt(100)","c":5,"E":0.2,"j":0.00011},{"e":"Pt(100)","c":5,"E":0.3,"j":0.00015},{"e":"Pt(100)","c":5,"E":0.36,"j":0.0002},{"e":"Pt(100)","c":5,"E":0.4,"j":0.00027},{"e":"Pt(100)","c":5,"E":0.43,"j":0.00038},{"e":"Pt(100)","c":5,"E":0.46,"j":0.00054},{"e":"Pt(100)","c":5,"E":0.49,"j":0.00073},{"e":"Pt(100)","c":5,"E":0.52,"j":0.00099},{"e":"Pt(100)","c":5,"E":0.55,"j":0.00127},{"e":"Pt(100)","c":5,"E":0.58,"j":0.00169},{"e":"Pt(100)","c":5,"E":0.61,"j":0.00223},{"e":"Pt(100)","c":5,"E":0.64,"j":0.00278},{"e":"Pt(100)","c":5,"E":0.67,"j":0.00324},{"e":"Pt(100)","c":5,"E":0.69,"j":0.00359},{"e":"Pt(100)","c":5,"E":0.71,"j":0.0037},{"e":"Pt(100)","c":5,"E":0.73,"j":0.00369},{"e":"Pt(100)","c":5,"E":0.75,"j":0.00362},{"e":"Pt(100)","c":5,"E":0.765,"j":0.00354},{"e":"Pt(100)","c":5,"E":0.771,"j":0.0038},{"e":"Pt(100)","c":5,"E":0.777,"j":0.0069},{"e":"Pt(100)","c":5,"E":0.786,"j":0.0058},{"e":"Pt(100)","c":5,"E":0.796,"j":0.005},{"e":"Pt(100)","c":5,"E":0.812,"j":0.0043},{"e":"Pt(100)","c":5,"E":0.84,"j":0.0037},{"e":"Pt(100)","c":5,"E":0.87,"j":0.0031},{"e":"Pt(100)","c":5,"E":0.9,"j":0.0025},{"e":"Pt(100)","c":5,"E":0.93,"j":0.002},{"e":"Pt(100)","c":5,"E":0.96,"j":0.0016},{"e":"Pt(100)","c":5,"E":1,"j":0.0011},{"e":"Pt(100)","c":5,"E":1.05,"j":0.0008},{"e":"Pt(100)","c":5,"E":1.1,"j":0.00075},{"e":"Pt(100)","c":5,"E":1.15,"j":0.00085},{"e":"Pt(100)","c":5,"E":1.2,"j":0.0013},
{"e":"Pt(100)","c":5,"E":1.19,"j":0.00098},{"e":"Pt(100)","c":5,"E":1.17,"j":0.00076},{"e":"Pt(100)","c":5,"E":1.14,"j":0.00054},{"e":"Pt(100)","c":5,"E":1.1,"j":0.00042},{"e":"Pt(100)","c":5,"E":1.05,"j":0.00038},{"e":"Pt(100)","c":5,"E":1,"j":0.0004},{"e":"Pt(100)","c":5,"E":0.96,"j":0.00046},{"e":"Pt(100)","c":5,"E":0.94,"j":0.00055},{"e":"Pt(100)","c":5,"E":0.935,"j":0.0022},{"e":"Pt(100)","c":5,"E":0.92,"j":0.0024},{"e":"Pt(100)","c":5,"E":0.89,"j":0.0028},{"e":"Pt(100)","c":5,"E":0.86,"j":0.0033},{"e":"Pt(100)","c":5,"E":0.83,"j":0.0038},{"e":"Pt(100)","c":5,"E":0.8,"j":0.0044},{"e":"Pt(100)","c":5,"E":0.785,"j":0.0048},{"e":"Pt(100)","c":5,"E":0.775,"j":0.005},{"e":"Pt(100)","c":5,"E":0.768,"j":0.0017},{"e":"Pt(100)","c":5,"E":0.75,"j":0.0016},{"e":"Pt(100)","c":5,"E":0.72,"j":0.0015},{"e":"Pt(100)","c":5,"E":0.68,"j":0.00135},{"e":"Pt(100)","c":5,"E":0.64,"j":0.0012},{"e":"Pt(100)","c":5,"E":0.6,"j":0.00108},{"e":"Pt(100)","c":5,"E":0.56,"j":0.00097},{"e":"Pt(100)","c":5,"E":0.52,"j":0.00085},{"e":"Pt(100)","c":5,"E":0.48,"j":0.00067},{"e":"Pt(100)","c":5,"E":0.44,"j":0.00048},{"e":"Pt(100)","c":5,"E":0.4,"j":0.00031},{"e":"Pt(100)","c":5,"E":0.36,"j":0.0002},{"e":"Pt(100)","c":5,"E":0.3,"j":0.00014},{"e":"Pt(100)","c":5,"E":0.2,"j":0.0001},{"e":"Pt(100)","c":5,"E":0.1,"j":0.00006},{"e":"Pt(100)","c":5,"E":0.05,"j":0.00002},{"e":"Pt(100)","c":5,"E":0.03,"j":-0.0001},{"e":"Pt(100)","c":5,"E":0.02,"j":-0.0003},{"e":"Pt(100)","c":5,"E":0.01,"j":-0.0006},{"e":"Pt(100)","c":5,"E":0,"j":-0.00088}
]},
"encoding": {
  "x": {"field": "E", "type": "quantitative", "scale": {"domain": [0, 1.4], "nice": false, "zero": false},
        "axis": {"title": "Potential/ V vs. RHE", "values": [0,0.1,0.2,0.3,0.4,0.5,0.6,0.7,0.8,0.9,1.0,1.1,1.2,1.3,1.4], "format": ".1f",
                 "labelExpr": "round(datum.value*10) % 2 == 0 ? datum.label : ''",
                 "tickSize": {"condition": {"test": "round(datum.value*10) % 2 == 0", "value": -7}, "value": -4},
                 "labelPadding": 39, "labelFlush": false, "labelOverlap": false,
                 "titleX": 358, "titleY": 77, "titleBaseline": "middle", "titleAlign": "center"}},
  "y": {"field": "j", "type": "quantitative", "scale": {"domain": [-0.002, 0.012], "nice": false, "zero": false},
        "axis": {"title": "Current-density/ A cm⁻²", "values": [-0.002,0,0.002,0.004,0.006,0.008,0.010], "format": ".4f",
                 "labelExpr": "abs(round(datum.value*1000)) % 4 == 2 ? datum.label : ''",
                 "tickSize": -6, "labelPadding": 29, "labelFlush": false, "labelOverlap": false,
                 "titleX": -134, "titleY": 316, "titleBaseline": "middle", "titleAlign": "center", "titleAngle": 270}},
  "color": {"field": "e", "type": "nominal", "scale": {"domain": ["Pt(111)", "Pt(100)"], "range": ["#000000", "#ff0000"]},
            "legend": {"orient": "none", "legendX": 436, "legendY": 15, "title": null, "symbolType": "stroke", "symbolSize": 1156, "symbolStrokeWidth": 2,
                       "labelFontSize": 25, "labelFont": "Liberation Sans", "labelColor": "black", "labelLimit": 0, "rowPadding": 15, "labelOffset": 0,
                       "labelExpr": "datum.label + '; c= 0.25 M'"}},
  "detail": {"field": "c", "type": "nominal"},
  "order": {"value": null}
},
"layer": [
  {"transform": [{"filter": "datum.e === 'Pt(111)'"}], "mark": {"type": "line", "strokeWidth": 3, "point": {"filled": true, "size": 20}}},
  {"transform": [{"filter": "datum.e === 'Pt(100)'"}], "mark": {"type": "line", "strokeWidth": 2.2, "point": {"filled": true, "size": 16}}}
]
}
